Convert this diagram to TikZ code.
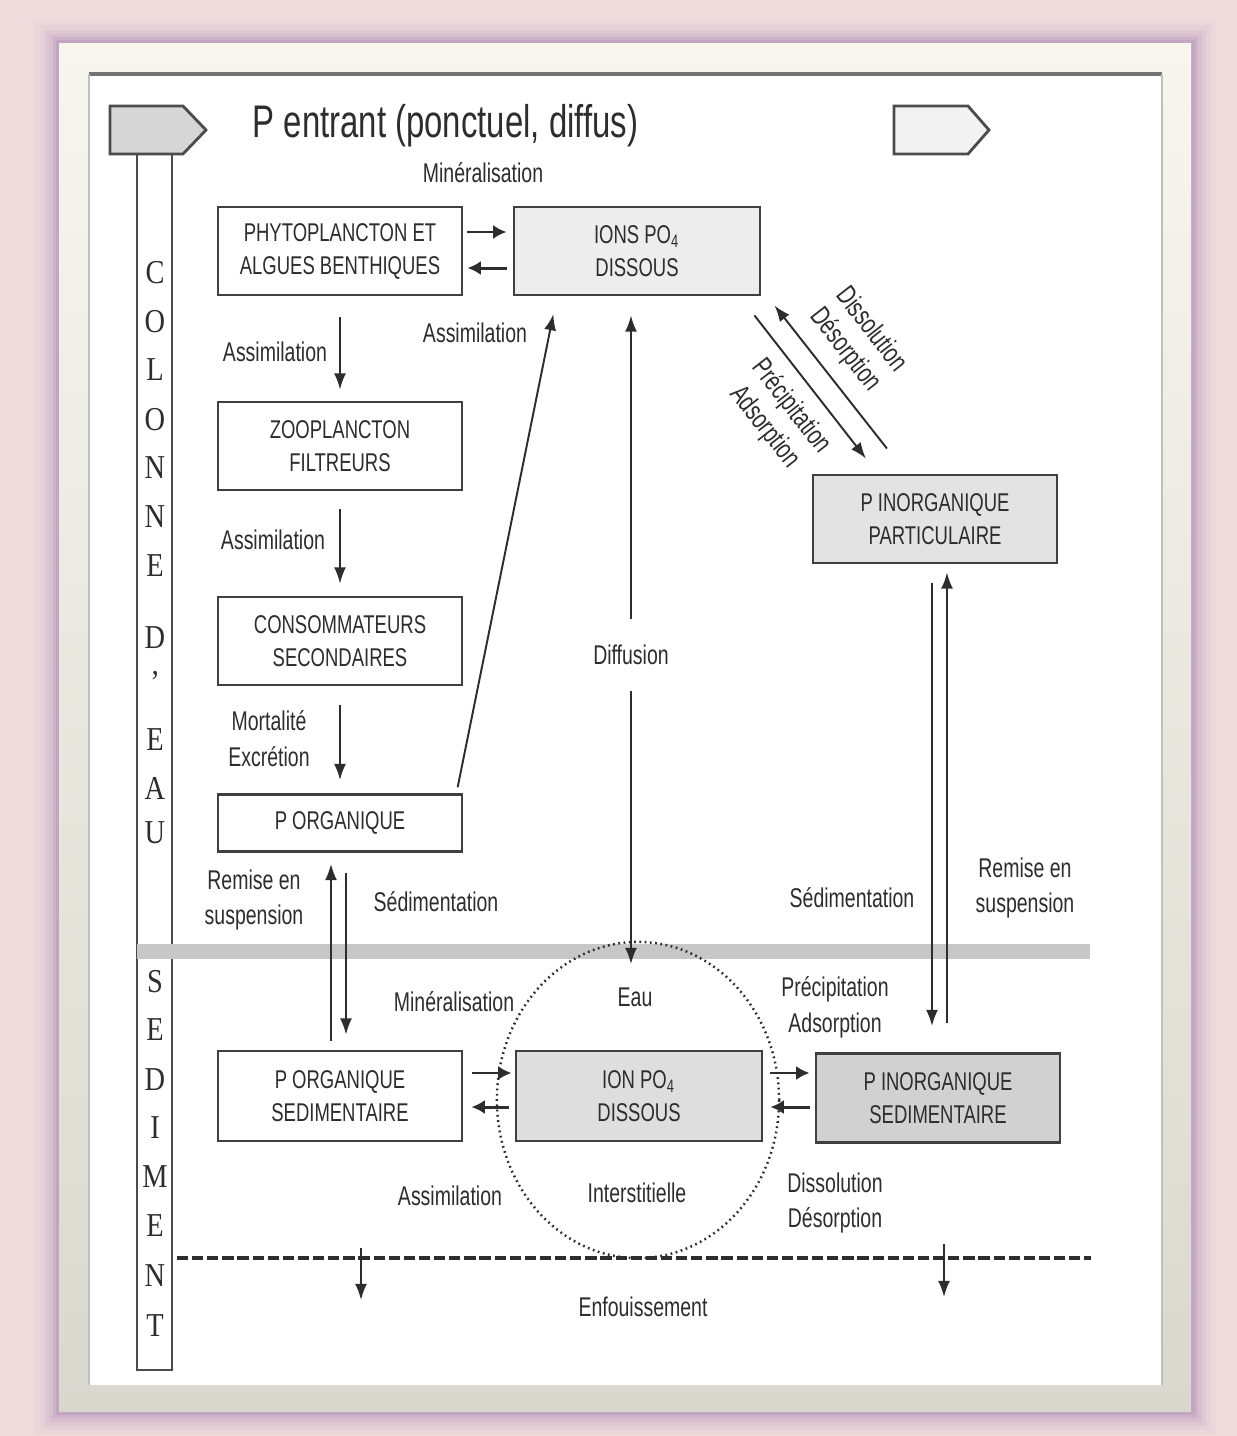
\documentclass[tikz,border=0pt]{standalone}
\usepackage{fontspec}
\setmainfont{Liberation Sans}[FakeStretch=0.72]
\newfontfamily\colfont{Liberation Serif}[FakeStretch=0.85]
\usetikzlibrary{arrows.meta}
\definecolor{pinkbg}{RGB}{238,220,221}
\definecolor{glow}{RGB}{168,132,178}
\definecolor{frametop}{RGB}{247,246,239}
\definecolor{framebot}{RGB}{218,216,206}
\definecolor{ink}{RGB}{45,45,45}
\begin{document}
\begin{tikzpicture}[x=0.01cm,y=-0.01cm,
		box/.style={draw=black!75,line width=0.8pt,minimum width=2.44cm,minimum height=0.88cm,align=center,text=ink,font=\fontsize{7.3}{9.4}\selectfont},
		lbl/.style={align=center,text=ink,font=\fontsize{7.7}{10.2}\selectfont,inner sep=1pt},
		letter/.style={text=ink,font=\colfont\fontsize{9.5}{11}\selectfont,inner sep=0pt},
		arr/.style={-{Latex[length=4.6pt,width=3.4pt]},line width=0.55pt,draw=ink,fill=ink},
		arrb/.style={-{Latex[length=3.8pt,width=4pt]},line width=0.85pt,draw=ink,fill=ink},
		tag/.style={draw=black!70,line width=0.8pt}]
	\useasboundingbox (0,0) rectangle (1237,1436);
	\fill[pinkbg] (0,0) rectangle (1237,1436);
	\fill[glow,opacity=0.05] (34,20) rectangle (1217,1434);
	\fill[glow,opacity=0.07] (40,25) rectangle (1211,1430);
	\fill[glow,opacity=0.10] (45,30) rectangle (1206,1426);
	\fill[glow,opacity=0.14] (49,34) rectangle (1202,1422);
	\fill[glow,opacity=0.20] (53,37) rectangle (1198,1418);
	\fill[glow,opacity=0.28] (56,40) rectangle (1195,1415);
	\shade[top color=frametop,bottom color=framebot] (59,43) rectangle (1191,1411);
	\fill[white] (89,73) rectangle (1162,1385);
	\draw[black!55,line width=1.2pt] (89,74) -- (1162,74);
	\draw[black!25,line width=0.6pt] (89,74) -- (89,1385);
	\draw[black!25,line width=0.6pt] (1162,74) -- (1162,1385);

	\filldraw[tag,fill=black!16] (110,106) -- (183,106) -- (206,130) -- (183,154) -- (110,154) -- cycle;
	\filldraw[tag,fill=black!5] (894,106) -- (968,106) -- (989,130) -- (968,154) -- (894,154) -- cycle;
	\draw[tag] (137,154) rectangle (172,1370);
	\fill[black!22] (137,944) rectangle (1090,959);
	\draw[ink,line width=0.7pt,dash pattern=on 0.5pt off 1pt] (638,1100) ellipse [x radius=1.41cm,y radius=1.58cm];
	\draw[ink,line width=1.3pt,dash pattern=on 3.2pt off 1.1pt] (177,1258) -- (1091,1258);

	\node[font=\fontsize{13}{15}\selectfont,text=ink,anchor=base west,inner sep=0pt] (titre) at (252,137) {P entrant (ponctuel, diffus)};

	\node[box] (phyto) at (340,251) {PHYTOPLANCTON ET\\ALGUES BENTHIQUES};
	\node[box,fill=black!7,minimum width=2.46cm] (ions) at (637,251) {IONS PO\textsubscript{4}\\DISSOUS};
	\node[box] (zoo) at (340,446) {ZOOPLANCTON\\FILTREURS};
	\node[box] (cons) at (340,641) {CONSOMMATEURS\\SECONDAIRES};
	\node[box,minimum height=0.57cm] (porg) at (340,823) {P ORGANIQUE};
	\node[box,fill=black!11] (pinorg) at (935,519) {P INORGANIQUE\\PARTICULAIRE};
	\node[box,minimum height=0.9cm] (porgsed) at (340,1096) {P ORGANIQUE\\SEDIMENTAIRE};
	\node[box,fill=black!13,minimum width=2.46cm,minimum height=0.9cm] (ionsed) at (639,1096) {ION PO\textsubscript{4}\\DISSOUS};
	\node[box,fill=black!18,minimum height=0.89cm] (pinorgsed) at (938,1098) {P INORGANIQUE\\SEDIMENTAIRE};

	\node[letter] (c1) at (155,273) {C};
	\node[letter] (c2) at (155,322) {O};
	\node[letter] (c3) at (155,370) {L};
	\node[letter] (c4) at (155,420) {O};
	\node[letter] (c5) at (155,468) {N};
	\node[letter] (c6) at (155,517) {N};
	\node[letter] (c7) at (155,566) {E};
	\node[letter] (c8) at (155,638) {D};
	\node[letter] (c9) at (155,682) {’};
	\node[letter] (c10) at (155,740) {E};
	\node[letter] (c11) at (155,788) {A};
	\node[letter] (c12) at (155,833) {U};
	\node[letter] (s1) at (155,982) {S};
	\node[letter] (s2) at (155,1030) {E};
	\node[letter] (s3) at (155,1080) {D};
	\node[letter] (s4) at (155,1128) {I};
	\node[letter] (s5) at (155,1177) {M};
	\node[letter] (s6) at (155,1226) {E};
	\node[letter] (s7) at (155,1276) {N};
	\node[letter] (s8) at (155,1326) {T};

	\draw[arr,shorten <=0.21cm,shorten >=0.11cm] (phyto.south) -- (zoo.north);
	\draw[arr,shorten <=0.18cm,shorten >=0.12cm] (zoo.south) -- (cons.north);
	\draw[arr,shorten <=0.19cm,shorten >=0.13cm] (cons.south) -- (porg.north);
	\draw[arrb,shorten <=0.04cm,shorten >=0.06cm] ([yshift=0.19cm]phyto.east) -- ([yshift=0.19cm]phyto.east -| ions.west);
	\draw[arrb,shorten <=0.06cm,shorten >=0.04cm] ([yshift=-0.17cm]phyto.east -| ions.west) -- ([yshift=-0.17cm]phyto.east);
	\draw[arr,shorten <=0.06cm,shorten >=0.18cm] ([xshift=-0.07cm]porg.north east) -- ([xshift=-0.80cm]ions.south);
	\coordinate (eautop) at (631,964);
	\draw[arr,{Latex[length=4.6pt,width=3.4pt]}-{Latex[length=4.6pt,width=3.4pt]},shorten <=0.19cm] ([xshift=-0.06cm]ions.south) -- node[lbl,fill=white,inner ysep=0.26cm,pos=0.537] (ldiff) {Diffusion} (eautop);
	\draw[arr] ([xshift=-0.48cm,yshift=0.25cm]pinorg.north) -- ([xshift=0.13cm,yshift=-0.09cm]ions.south east);
	\draw[arr] ([xshift=-0.07cm,yshift=-0.19cm]ions.south east) -- ([xshift=-0.69cm,yshift=0.15cm]pinorg.north);
	\draw[arr,shorten <=0.19cm,shorten >=0.26cm] ([xshift=-0.03cm]pinorg.south) -- ([xshift=-0.03cm]pinorg.south |- pinorgsed.north);
	\draw[arr,shorten <=0.29cm,shorten >=0.08cm] ([xshift=0.12cm]pinorg.south |- pinorgsed.north) -- ([xshift=0.12cm]pinorg.south);
	\draw[arr,shorten <=0.09cm,shorten >=0.11cm] ([xshift=-0.09cm]porgsed.north) -- ([xshift=-0.09cm]porgsed.north |- porg.south);
	\draw[arr,shorten <=0.20cm,shorten >=0.15cm] ([xshift=0.06cm]porg.south) -- ([xshift=0.06cm]porg.south |- porgsed.north);
	\draw[arrb,shorten <=0.09cm,shorten >=0.03cm] ([yshift=0.23cm]porgsed.east) -- ([yshift=0.23cm]porgsed.east -| ionsed.west);
	\draw[arrb,shorten <=0.06cm,shorten >=0.08cm] ([yshift=-0.11cm]porgsed.east -| ionsed.west) -- ([yshift=-0.11cm]porgsed.east);
	\draw[arrb,shorten <=0.07cm,shorten >=0.05cm] ([yshift=0.23cm]ionsed.east) -- ([yshift=0.23cm]ionsed.east -| pinorgsed.west);
	\draw[arrb,shorten <=0.05cm,shorten >=0.07cm] ([yshift=-0.11cm]ionsed.east -| pinorgsed.west) -- ([yshift=-0.11cm]ionsed.east);
	\coordinate (enf1) at (361,1248);
	\coordinate (enf1b) at (361,1300);
	\coordinate (enf2) at (944,1244);
	\coordinate (enf2b) at (944,1297);
	\draw[arr] (enf1) -- (enf1b);
	\draw[arr] (enf2) -- (enf2b);

	\node[lbl] (lmin1) at (483,173) {Minéralisation};
	\node[lbl] (lass1) at (275,352) {Assimilation};
	\node[lbl] (lass2) at (475,333) {Assimilation};
	\node[lbl] (lass3) at (273,540) {Assimilation};
	\node[lbl] (lmort) at (269,739) {Mortalité\\Excrétion};
	\node[lbl,rotate=-52,font=\fontsize{7.9}{9.4}\selectfont] (ldiss1) at (858,340) {Dissolution\\Désorption};
	\node[lbl,rotate=-52,font=\fontsize{7.9}{9.4}\selectfont] (lprec1) at (778,417) {Précipitation\\Adsorption};
	\node[lbl] (lrem1) at (254,900) {Remise en\\suspension};
	\node[lbl] (lsed1) at (436,902) {Sédimentation};
	\node[lbl] (lsed2) at (852,898) {Sédimentation};
	\node[lbl] (lrem2) at (1025,888) {Remise en\\suspension};
	\node[lbl] (lmin2) at (454,1002) {Minéralisation};
	\node[lbl] (leau) at (635,997) {Eau};
	\node[lbl] (lprec2) at (835,1007) {Précipitation\\Adsorption};
	\node[lbl] (lass4) at (450,1196) {Assimilation};
	\node[lbl] (linter) at (637,1193) {Interstitielle};
	\node[lbl] (ldiss2) at (835,1203) {Dissolution\\Désorption};
	\node[lbl] (lenf) at (643,1307) {Enfouissement};
\end{tikzpicture}
\end{document}
